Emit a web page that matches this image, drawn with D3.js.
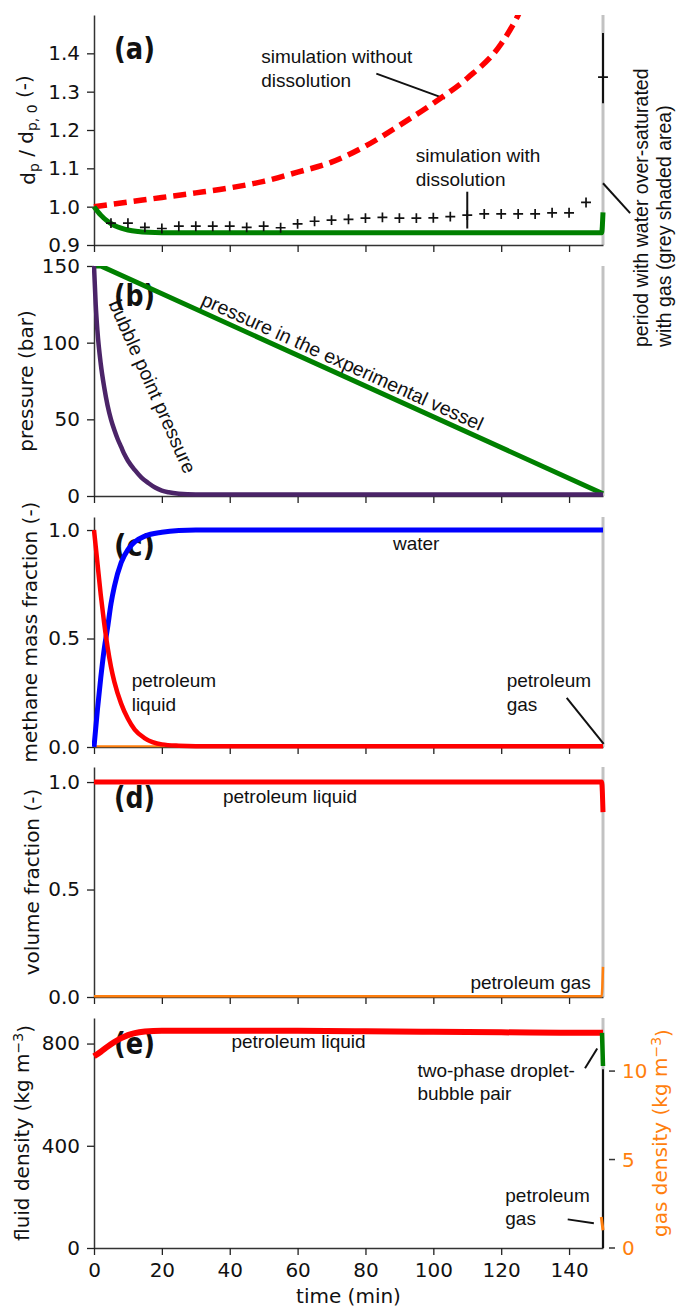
<!DOCTYPE html>
<html>
<head>
<meta charset="utf-8">
<script src="https://cdn.jsdelivr.net/npm/d3@7"></script>
<style>
  body { margin: 0; background: #fff; }
  svg text { font-family: "DejaVu Sans", sans-serif; fill: #111; }
  .ann { font-family: "Liberation Sans", Arial, sans-serif; font-size: 19px; }
  .tag { font-family: "DejaVu Sans Condensed", "DejaVu Sans", sans-serif; font-weight: bold; font-size: 30px; }
</style>
</head>
<body>
<div id="chart"></div>
<script>
// ---- data ----
// (a) particle diameter ratio
const tNoDiss = [0, 10, 20, 30, 40, 50, 60, 70, 80, 90, 100, 110, 120, 125, 128]
const dpNoDiss = [1.0, 1.012, 1.024, 1.036, 1.049, 1.066, 1.09, 1.116, 1.158, 1.212, 1.27, 1.335, 1.425, 1.5, 1.56]
const tDiss = [0, 2, 4, 6, 8, 10, 13, 16, 20, 60, 100, 149.6, 150]
const dpDiss = [1.0, 0.978, 0.962, 0.951, 0.944, 0.939, 0.935, 0.933, 0.932, 0.932, 0.932, 0.932, 0.985]
const tExp = [5, 10, 15, 20, 25, 30, 35, 40, 45, 50, 55, 60, 65, 70, 75, 80, 85, 90, 95, 100,
  105, 110, 115, 120, 125, 130, 135, 140, 145, 150]
const dpExp = [0.957, 0.957, 0.946, 0.943, 0.949, 0.949, 0.949, 0.949, 0.946, 0.949, 0.945, 0.955,
  0.962, 0.965, 0.967, 0.970, 0.972, 0.970, 0.970, 0.971, 0.974, 0.978, 0.981, 0.981, 0.981,
  0.981, 0.984, 0.984, 1.011, 1.338]
const tErr = [110, 150]
const errLo = [0.943, 1.27]
const errHi = [1.039, 1.453]

// (b) pressure
const tVessel = [0, 2, 150]
const pVessel = [150, 150, 1.5]
const tBubble = [0, 0.5, 1, 2, 3, 4, 5, 6, 7, 8, 9, 10, 12, 14, 16, 18, 20, 22, 25, 30, 150]
const pBubble = [150, 125, 108, 86, 71, 59, 50, 43, 37, 32, 27, 23, 17, 12, 8.5, 5.5, 3.5, 2.4, 1.5, 1, 1]

// (c) methane mass fraction
const tMass = [0, 1, 2, 3, 4, 5, 6, 8, 10, 12, 15, 20, 25, 30, 150]
const wWater = [0, 0.17, 0.32, 0.45, 0.55, 0.66, 0.74, 0.85, 0.91, 0.945, 0.972, 0.99, 0.998, 1, 1]
const wLiquid = [1, 0.85, 0.7, 0.57, 0.46, 0.37, 0.3, 0.2, 0.13, 0.08, 0.04, 0.012, 0.006, 0.004, 0.004]
const tMassGas = [0, 150]
const wGas = [0.003, 0.003]

// (d) volume fraction
const tVol = [0, 149.6, 150]
const vLiquid = [1, 1, 0.86]
const vGas = [0.003, 0.003, 0.14]

// (e) densities
const tRho = [0, 2, 4, 6, 8, 10, 12, 15, 20, 40, 60, 80, 100, 120, 140, 150]
const rhoLiquid = [750, 768, 788, 806, 821, 833, 841, 847, 850, 850, 850, 848, 846, 844, 842, 842]
const tPair = [149.7, 150]
const rhoPair = [842, 712]
const tGasRho = [149.5, 150]
const rhoGas = [1.75, 1.0]

const xTicks = [0, 20, 40, 60, 80, 100, 120, 140]

// ---- layout ----
const W = 676, H = 1308
const panelTops = [15, 266, 517, 767, 1018]
const panelH = 230
const x = d3.scaleLinear().domain([0, 150]).range([94, 603])

const svg = d3.select('#chart').append('svg').attr('width', W).attr('height', H)

const panels = [
  { domain: [0.9, 1.5], ticks: [0.9, 1.0, 1.1, 1.2, 1.3, 1.4], fmt: d3.format('.1f'), labelX: 28 },
  { domain: [0, 150], ticks: [0, 50, 100, 150], fmt: d3.format('d'), labelX: 26 },
  { domain: [0, 1.06], ticks: [0, 0.5, 1.0], fmt: d3.format('.1f'), labelX: 30 },
  { domain: [0, 1.07], ticks: [0, 0.5, 1.0], fmt: d3.format('.1f'), labelX: 32 },
  { domain: [0, 900], ticks: [0, 400, 800], fmt: d3.format('d'), labelX: 22 }
]

const line = (y, curve) => d3.line()
  .x(d => x(d[0])).y(d => y(d[1]))
  .curve(curve || d3.curveMonotoneX)

function drawLine(g, y, ts, vs, color, width, dash, curve) {
  return g.append('path')
    .datum(d3.zip(ts, vs))
    .attr('fill', 'none')
    .attr('stroke', color)
    .attr('stroke-width', width)
    .attr('stroke-dasharray', dash || null)
    .attr('stroke-linejoin', 'round')
    .attr('d', line(y, curve))
}

function ann(g, px, py, lines, opts) {
  opts = opts || {}
  const t = g.append('text').attr('class', 'ann')
    .attr('text-anchor', opts.anchor || 'start')
  if (opts.rotate != null) {
    t.attr('transform', 'translate(' + px + ',' + py + ') rotate(' + opts.rotate + ')')
    px = 0; py = 0
  } else {
    t.attr('x', px).attr('y', py)
  }
  if (opts.size) t.style('font-size', opts.size + 'px')
  lines.forEach((s, i) => {
    t.append('tspan').attr('x', px).attr('y', py + i * (opts.lh || 24)).text(s)
  })
  return t
}

function leader(g, x1, y1, x2, y2) {
  g.append('line').attr('x1', x1).attr('y1', y1).attr('x2', x2).attr('y2', y2)
    .attr('stroke', '#111').attr('stroke-width', 2)
}

panels.forEach((p, i) => {
  const top = panelTops[i]
  const y = d3.scaleLinear().domain(p.domain).range([top + panelH, top])
  const g = svg.append('g')

  // grey band (period with over-saturated water)
  g.append('line')
    .attr('x1', x(150)).attr('x2', x(150))
    .attr('y1', top).attr('y2', top + panelH)
    .attr('stroke', '#c2c2c2').attr('stroke-width', 3)

  // axes
  const ay = g.append('g').attr('transform', 'translate(' + x(0) + ',0)')
    .call(d3.axisLeft(y).tickValues(p.ticks).tickFormat(p.fmt).tickSize(7).tickSizeOuter(0).tickPadding(7))
  const ax = g.append('g').attr('transform', 'translate(0,' + (top + panelH) + ')')
    .call(d3.axisBottom(x).tickValues(xTicks).tickSize(7).tickSizeOuter(0).tickPadding(8)
      .tickFormat(i === 4 ? d3.format('d') : ''))
  ;[ay, ax].forEach(a => {
    a.selectAll('text').style('font-size', '20px').style('font-family', '"DejaVu Sans", sans-serif').attr('fill', '#111')
    a.selectAll('line').attr('stroke', '#222').attr('stroke-width', 1.3)
    a.select('.domain').attr('stroke', '#333').attr('stroke-width', 1.5)
  })

  // clip for data marks
  svg.append('clipPath').attr('id', 'clip' + i)
    .append('rect').attr('x', x(0) - 2).attr('y', top).attr('width', 530).attr('height', panelH + 4)

  p.g = g
  p.plot = svg.append('g').attr('clip-path', 'url(#clip' + i + ')')
  p.y = y
  p.top = top
})

function tag(p, s, base) {
  p.g.append('text').attr('class', 'tag').attr('x', 114).attr('y', p.top + base)
    .attr('textLength', 41).attr('lengthAdjust', 'spacingAndGlyphs').text(s)
}

function yLabel(p, build) {
  const t = p.g.append('text')
    .attr('transform', 'translate(' + p.labelX + ',' + (p.top + panelH / 2) + ') rotate(-90)')
    .attr('text-anchor', 'middle').attr('dy', '0.35em')
    .style('font-size', '20px')
  build(t)
  return t
}

// ---------- (a) ----------
{
  const p = panels[0], y = p.y
  drawLine(p.plot, y, tNoDiss, dpNoDiss, '#ff0000', 5.5, '13,7')
  drawLine(p.plot, y, tDiss, dpDiss, '#008000', 5)
  // error bars
  p.plot.selectAll('.err').data(d3.zip(tErr, errLo, errHi)).enter().append('line')
    .attr('x1', d => x(d[0])).attr('x2', d => x(d[0]))
    .attr('y1', d => y(d[1])).attr('y2', d => y(d[2]))
    .attr('stroke', '#111').attr('stroke-width', 2)
  // measured points
  p.plot.selectAll('.pt').data(d3.zip(tExp, dpExp)).enter().append('path')
    .attr('transform', d => 'translate(' + x(d[0]) + ',' + y(d[1]) + ')')
    .attr('d', d3.symbol(d3.symbolPlus, 34))
    .attr('stroke', '#111').attr('stroke-width', 1.7).attr('fill', 'none')

  tag(p, '(a)', 44)
  ann(p.g, x(49.3), y(1.375), ['simulation without', 'dissolution'])
  leader(p.g, x(83.2), y(1.347), x(103.4), y(1.282))
  ann(p.g, x(94.8), y(1.117), ['simulation with', 'dissolution'])
  leader(p.g, x(150), y(1.061), x(158), y(0.983))

  yLabel(p, t => {
    t.append('tspan').text('d')
    t.append('tspan').attr('dy', '0.3em').style('font-size', '14px').text('p')
    t.append('tspan').attr('dy', '-0.3em').text(' / d')
    t.append('tspan').attr('dy', '0.3em').style('font-size', '14px').text('p, 0')
    t.append('tspan').attr('dy', '-0.3em').text(' (-)')
  })

  // side note on the grey band
  ann(svg, 648, 347, ['period with water over-saturated', 'with gas (grey shaded area)'],
    { rotate: -90, size: 19.5, lh: 23 })
}

// ---------- (b) ----------
{
  const p = panels[1], y = p.y
  drawLine(p.plot, y, tVessel, pVessel, '#008000', 5, null, d3.curveLinear)
  drawLine(p.plot, y, tBubble, pBubble, '#4b2468', 4.5)
  tag(p, '(b)', 40)

  // label follows the vessel pressure line, a few pixels above it
  const n = tVessel.length
  const ang = Math.atan2(y(pVessel[n - 1]) - y(pVessel[1]), x(tVessel[n - 1]) - x(tVessel[1]))
  const t0 = 30.5
  const p0 = d3.scaleLinear().domain([tVessel[1], tVessel[n - 1]]).range([pVessel[1], pVessel[n - 1]])(t0)
  const off = 6
  ann(p.g, x(t0) + off * Math.sin(ang), y(p0) - off * Math.cos(ang),
    ['pressure in the experimental vessel'], { rotate: ang * 180 / Math.PI, size: 19.5 })
  ann(p.g, x(4.2), y(125.5), ['bubble point pressure'], { rotate: 66, size: 19.5 })
  yLabel(p, t => t.text('pressure (bar)'))
}

// ---------- (c) ----------
{
  const p = panels[2], y = p.y
  drawLine(p.plot, y, tMassGas, wGas, '#ff7f0e', 2)
  drawLine(p.plot, y, tMass, wWater, '#0000ff', 5)
  drawLine(p.plot, y, tMass, wLiquid, '#ff0000', 4.5)
  tag(p, '(c)', 39)
  ann(p.g, x(88.1), y(0.908), ['water'])
  ann(p.g, x(11.1), y(0.278), ['petroleum', 'liquid'])
  ann(p.g, x(121.6), y(0.278), ['petroleum', 'gas'])
  leader(p.g, x(139.3), y(0.226), x(150.2), y(0.014))
  yLabel(p, t => t.text('methane mass fraction (-)'))
}

// ---------- (d) ----------
{
  const p = panels[3], y = p.y
  drawLine(p.plot, y, tVol, vGas, '#ff7f0e', 2.5)
  drawLine(p.plot, y, tVol, vLiquid, '#ff0000', 5)
  tag(p, '(d)', 41)
  ann(p.g, x(38), y(0.901), ['petroleum liquid'])
  ann(p.g, x(146.4), y(0.036), ['petroleum gas'], { anchor: 'end' })
  yLabel(p, t => t.text('volume fraction (-)'))
}

// ---------- (e) ----------
{
  const p = panels[4], y = p.y
  const yR = d3.scaleLinear().domain([0, 13]).range([p.top + panelH, p.top])

  drawLine(p.plot, y, tRho, rhoLiquid, '#ff0000', 6)
  drawLine(p.plot, y, tPair, rhoPair, '#008000', 4.5)
  drawLine(p.plot, yR, tGasRho, rhoGas, '#ff7f0e', 3)

  // right axis: gas density
  p.g.append('line')
    .attr('x1', x(150)).attr('x2', x(150))
    .attr('y1', yR(0)).attr('y2', yR(10.1))
    .attr('stroke', '#111').attr('stroke-width', 2)
  const rt = p.g.selectAll('.rtick').data([0, 5, 10]).enter().append('g')
    .attr('transform', d => 'translate(0,' + yR(d) + ')')
  rt.append('line').attr('x1', x(150) + 6).attr('x2', x(150) + 12)
    .attr('stroke', '#333').attr('stroke-width', 1.5)
  rt.append('text').attr('x', x(150) + 19).attr('dy', '0.35em')
    .style('font-size', '20px').style('fill', '#ff7f0e').text(d => d)

  tag(p, '(e)', 36)
  ann(p.g, x(40.5), y(781), ['petroleum liquid'])
  ann(p.g, x(95.3), y(668), ['two-phase droplet-', 'bubble pair'], { lh: 23 })
  leader(p.g, x(144.7), y(703), x(148.3), y(781))
  ann(p.g, x(121.2), y(181), ['petroleum', 'gas'], { lh: 23 })
  leader(p.g, x(139.6), y(112), x(147.3), y(97))

  yLabel(p, t => {
    t.append('tspan').text('fluid density (kg m')
    t.append('tspan').attr('dy', '-0.45em').style('font-size', '14px').text('\u22123')
    t.append('tspan').attr('dy', '0.45em').text(')')
  })
  p.g.append('text')
    .attr('transform', 'translate(660,' + (p.top + panelH / 2) + ') rotate(-90)')
    .attr('text-anchor', 'middle').attr('dy', '0.35em')
    .style('font-size', '20px').style('fill', '#ff7f0e')
    .call(t => {
      t.append('tspan').text('gas density (kg m')
      t.append('tspan').attr('dy', '-0.45em').style('font-size', '14px').text('\u22123')
      t.append('tspan').attr('dy', '0.45em').text(')')
    })

  svg.append('text').attr('x', (x(0) + x(150)) / 2).attr('y', 1303)
    .attr('text-anchor', 'middle').style('font-size', '20px').text('time (min)')
}
</script>
</body>
</html>
